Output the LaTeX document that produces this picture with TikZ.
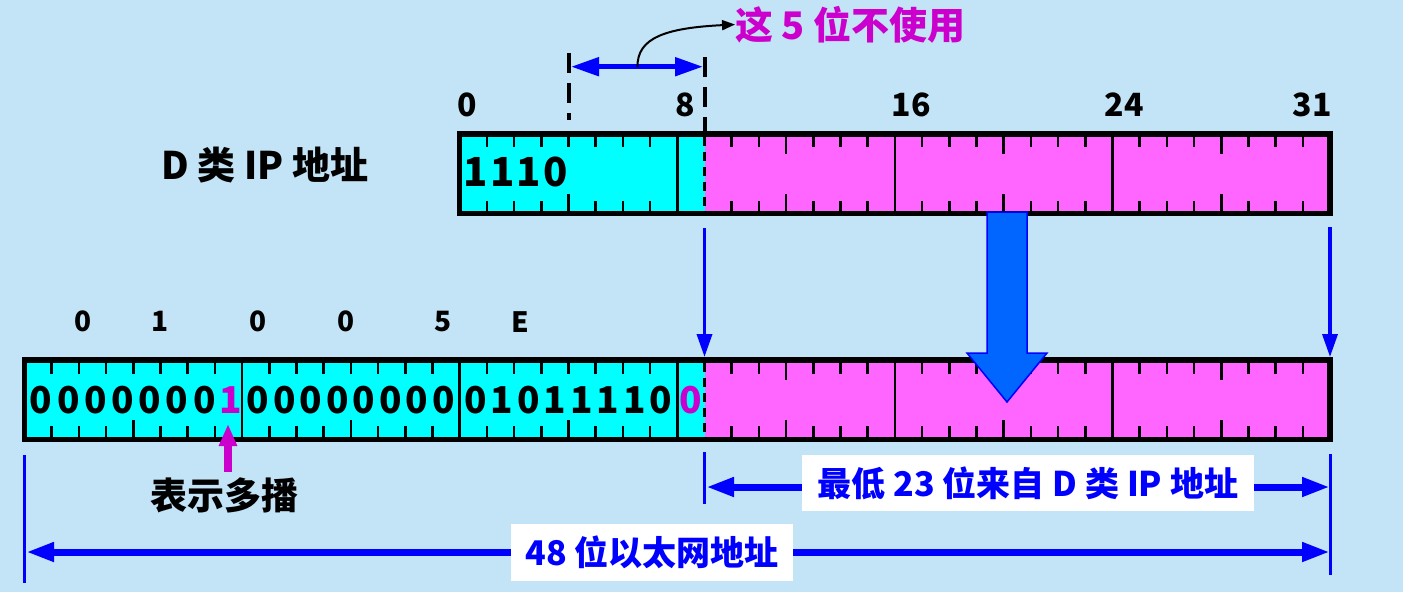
\documentclass[tikz,border=0pt]{standalone}
\usepackage{fontspec}
\setmainfont{Noto Sans CJK SC}
\usetikzlibrary{arrows.meta}
\definecolor{bgc}{RGB}{195,227,246}
\definecolor{cyanc}{RGB}{0,255,255}
\definecolor{magc}{RGB}{255,102,255}
\definecolor{magt}{RGB}{204,0,204}
\definecolor{bluec}{RGB}{0,0,255}
\definecolor{arrblue}{RGB}{0,102,255}
\begin{document}
\begin{tikzpicture}[x=1pt,y=-1pt,
  txt/.style={inner sep=0pt, font=\bfseries\fontsize{#1}{#1}\selectfont},
  tickl/.style={black, line width=2.6},
  dashb/.style={black, line width=3.5, dash pattern=on 9pt off 6pt},
  dashe/.style={black, line width=4, dash pattern=on 20pt off 10pt},
  varrow/.style={bluec, line width=3.5, -{Triangle[length=23pt,width=15pt]}},
  harrow/.style={bluec, line width=7, {Triangle[length=28pt,width=18pt]}-{Triangle[length=28pt,width=18pt]}},
  vline/.style={bluec, line width=3},
  boxw/.style={fill=white, inner sep=0pt, text=bluec, font=\bfseries\fontsize{34}{34}\selectfont}
]
\fill[bgc] (0,0) rectangle (1403,592);
\useasboundingbox (0,0) rectangle (1403,592);

% ---------- top bar (D class IP) ----------
\fill[cyanc] (459.7,134) rectangle (704.5,213.5);
\fill[magc] (704.5,134) rectangle (1330.1,213.5);
\foreach \i in {1,2,3,5,6,7,10,11,13,14,15,17,18,19,21,22,23,25,26,27,29,30,31}{
  \draw[tickl] ({459.7+\i*27.2},134) -- ++(0,13);
  \draw[tickl] ({459.7+\i*27.2},213.5) -- ++(0,-13);
}
\foreach \i in {4}{
  \draw[tickl] ({459.7+\i*27.2},134) -- ++(0,13);
  \draw[tickl] ({459.7+\i*27.2},213.5) -- ++(0,-20);
}
\foreach \i in {12,20,28}{
  \draw[tickl] ({459.7+\i*27.2},134) -- ++(0,20);
  \draw[tickl] ({459.7+\i*27.2},213.5) -- ++(0,-20);
}
\foreach \i in {8,16,24}{
  \draw[tickl] ({459.7+\i*27.2},134) -- ({459.7+\i*27.2},213.5);
}
\draw[dashb] (704.5,137) -- (704.5,211);
\draw[black, line width=5.5] (459.7,134) rectangle (1330.1,213.5);

% ---------- bottom bar (Ethernet) ----------
\fill[cyanc] (24.5,360) rectangle (704.5,439.5);
\fill[magc] (704.5,360) rectangle (1330.1,439.5);
\foreach \i in {1,2,3,5,6,7,9,10,11,13,14,15,17,18,19,21,22,23,26,27,29,30,31,33,34,35,37,38,39,41,42,43,45,46,47}{
  \draw[tickl] ({24.5+\i*27.2},360) -- ++(0,13.5);
  \draw[tickl] ({24.5+\i*27.2},439.5) -- ++(0,-13.5);
}
\foreach \i in {4,12,20}{
  \draw[tickl] ({24.5+\i*27.2},360) -- ++(0,13.5);
  \draw[tickl] ({24.5+\i*27.2},439.5) -- ++(0,-20);
}
\foreach \i in {28,36,44}{
  \draw[tickl] ({24.5+\i*27.2},360) -- ++(0,20);
  \draw[tickl] ({24.5+\i*27.2},439.5) -- ++(0,-20);
}
\foreach \i in {8,16,24,32,40}{
  \draw[tickl] ({24.5+\i*27.2},360) -- ({24.5+\i*27.2},439.5);
}
\draw[dashb] (704.5,363) -- (704.5,437);
\draw[black, line width=5.5] (24.5,360) rectangle (1330.1,439.5);

% ---------- texts in bars ----------
\node[txt=40] (t0) at (476,171.7) {1};
\node[txt=40] (t1) at (502.5,171.7) {1};
\node[txt=40] (t2) at (529,171.7) {1};
\node[txt=40] (t3) at (556,171.7) {0};

\foreach \d [count=\k from 0] in {0,0,0,0,0,0,0}{
  \node[txt=37] (ga\k) at ({24.5+(\k+0.5)*27.2+3},400.3) {\d};
}
\node[txt=37, text=magt] (gm1) at ({24.5+7.5*27.2+2},400.3) {1};
\foreach \d [count=\k from 8] in {0,0,0,0,0,0,0,0}{
  \node[txt=37] (gb\k) at ({24.5+(\k+0.5)*27.2+(11.5-\k)*0.7},400.3) {\d};
}
\foreach \d [count=\k from 16] in {0,1,0,1,1,1,1,0}{
  \node[txt=37] (gc\k) at ({24.5+(\k+0.5)*27.2+(19.5-\k)*0.7},400.3) {\d};
}
\node[txt=37, text=magt] (gm0) at (691,400.3) {0};

% ---------- bit index labels ----------
\node[txt=32] (n0) at (467.7,105) {0};
\node[txt=32] (n8) at (685,105) {8};
\node[txt=32] (n16) at (911,105) {16};
\node[txt=32] (n24) at (1124,105) {24};
\node[txt=32] (n31) at (1312,105) {31};

\node[txt=28] (h1) at (83.3,321.7) {0};
\node[txt=28] (h2) at (160,321.7) {1};
\node[txt=28] (h3) at (258,321.7) {0};
\node[txt=28] (h4) at (346,321.7) {0};
\node[txt=28] (h5) at (443,321.7) {5};
\node[txt=28] (h6) at (520,321.7) {E};

\node[txt=38, anchor=west] (dlab) at (161,165) {D 类 IP 地址};

% ---------- top annotation ----------
\coordinate (dl1) at (568.5,53);
\coordinate (dl2) at (568.5,120);
\coordinate (dr1) at (704.5,57);
\coordinate (dr2) at (704.5,132);
\draw[dashe] (dl1) -- (dl2);
\draw[dashe] (dr1) -- (dr2);
\coordinate (ua) at (571,66.7);
\coordinate (ub) at (703,66.7);
\draw[bluec, line width=5, {Triangle[length=28pt,width=18pt]}-{Triangle[length=28pt,width=18pt]}] (ua) -- (ub);
\node[txt=38, text=magt, anchor=west] (unused) at (735,24.5) {这 5 位不使用};
\coordinate (cs) at (637.5,67);
\draw[black, line width=2, -{Triangle[length=13pt,width=10pt]}] (cs) .. controls (637,38) and (665,28) .. (unused.west);

% ---------- big arrow ----------
\filldraw[fill=arrblue, draw=bluec, line width=1.5]
  (987,212) -- (1027,212) -- (1027,353) -- (1047,353) -- (1007,402) -- (967,353) -- (987,353) -- cycle;

% ---------- vertical blue arrows ----------
\coordinate (va1) at (704.5,228);
\coordinate (vb1) at (704.5,357);
\coordinate (va2) at (1330,227);
\coordinate (vb2) at (1330,357);
\draw[varrow] (va1) -- (vb1);
\draw[varrow] (va2) -- (vb2);

% ---------- multicast arrow ----------
\node[txt=37, anchor=north] (multi) at (224,478) {表示多播};
\coordinate (mtip) at (228,424);
\draw[magt, line width=8, -{Triangle[length=22pt,width=17pt]}] (multi.north -| mtip) ++(0,-6) -- (mtip);

% ---------- bottom dimension lines ----------
\coordinate (l1a) at (24.5,455);
\coordinate (l1b) at (24.5,583);
\coordinate (l2a) at (704.5,452);
\coordinate (l2b) at (704.5,504);
\coordinate (l3a) at (1330,454);
\coordinate (l3b) at (1330,575);
\draw[vline] (l1a) -- (l1b);
\draw[vline] (l2a) -- (l2b);
\draw[vline] (l3a) -- (l3b);
\coordinate (a1l) at (706,487);
\coordinate (a1r) at (1330,487);
\coordinate (a2l) at (26,552);
\coordinate (a2r) at (1330,552);
\draw[harrow] (a1l) -- (a1r);
\draw[harrow] (a2l) -- (a2r);
\node[boxw, minimum width=452, minimum height=56] (box1) at (1028,483) {最低 23 位来自 D 类 IP 地址};
\node[boxw, minimum width=282, minimum height=57] (box2) at (652,552.5) {48 位以太网地址};
\end{tikzpicture}
\end{document}
